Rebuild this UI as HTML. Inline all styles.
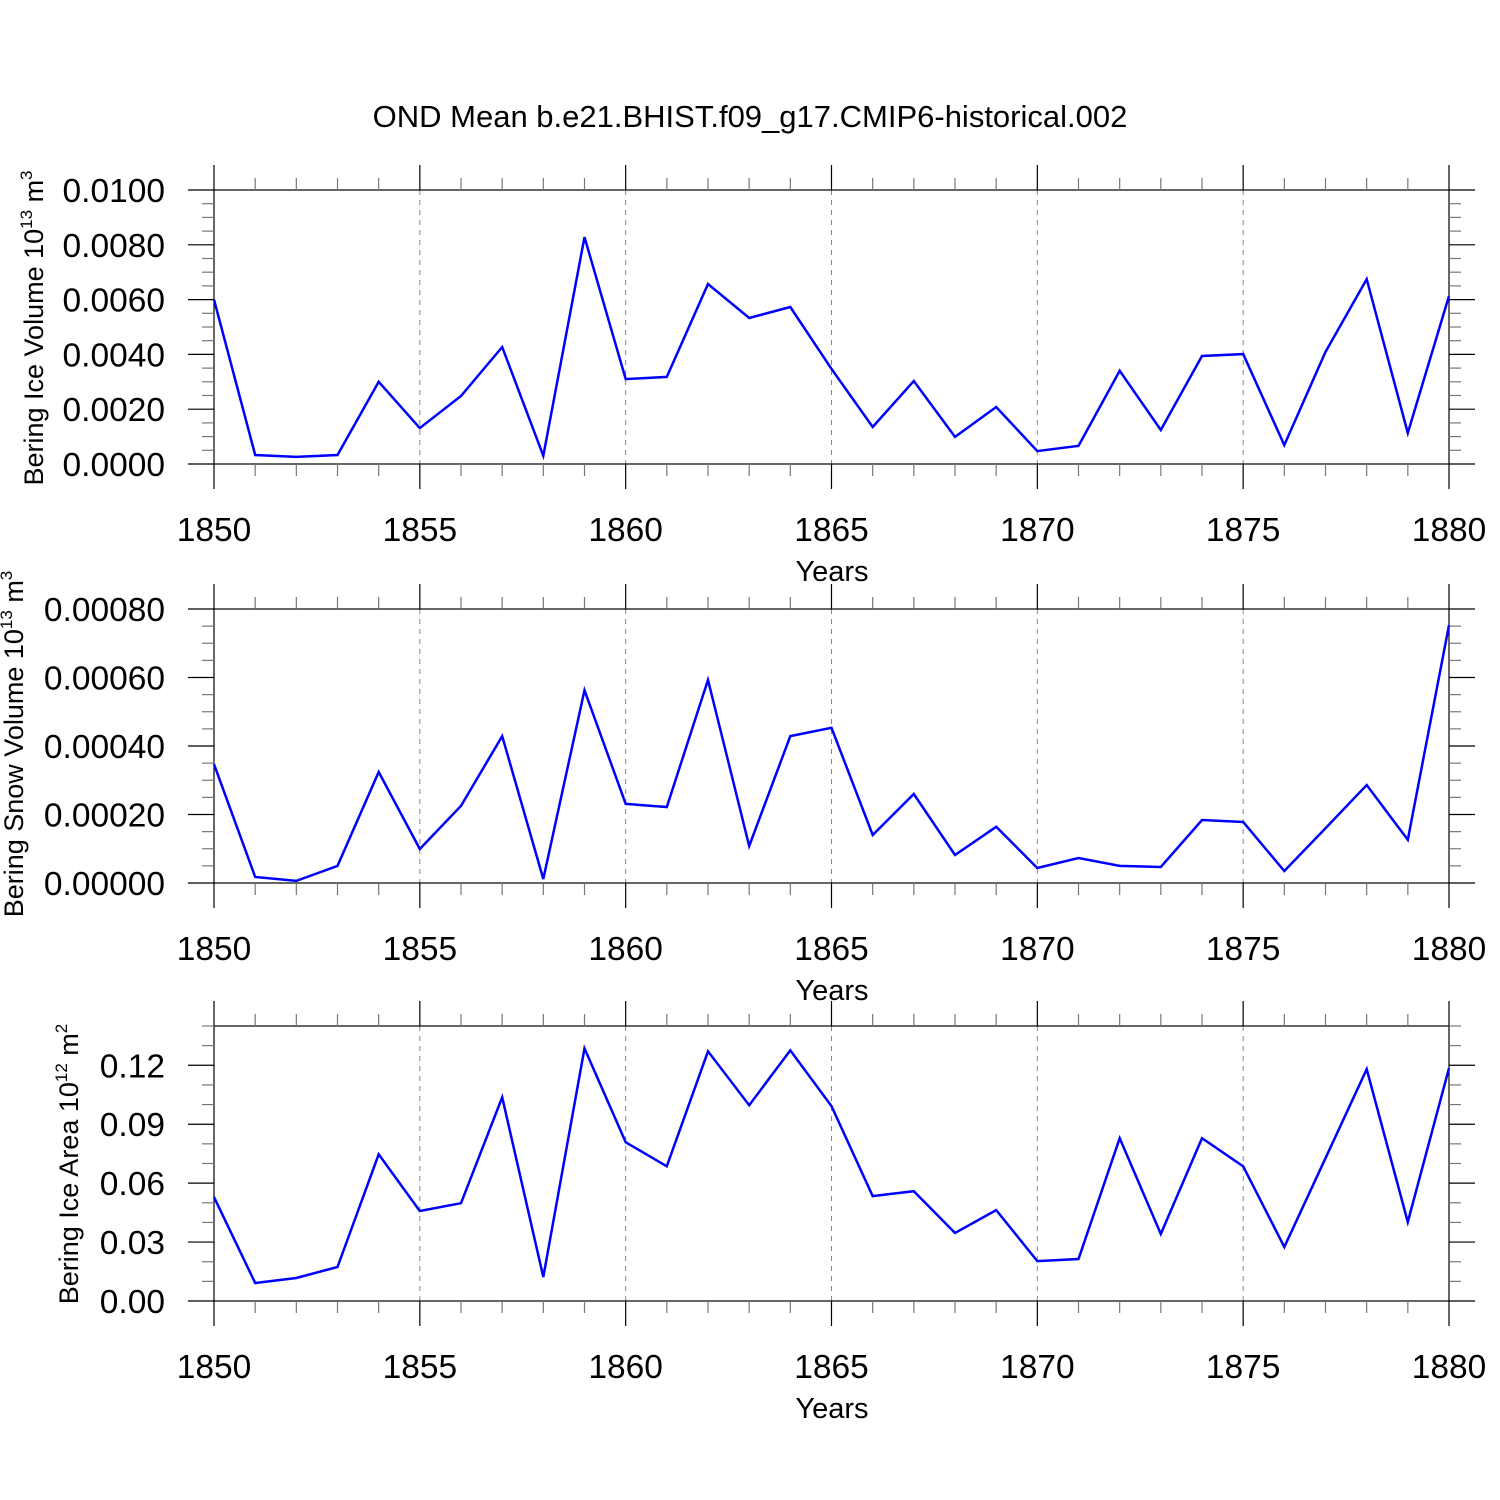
<!DOCTYPE html>
<html><head><meta charset="utf-8"><style>
html,body{margin:0;padding:0;background:#fff}
svg{display:block;font-family:"Liberation Sans",sans-serif}
</style></head><body>
<svg id="chart" width="1500" height="1500" viewBox="0 0 1500 1500">
<rect width="1500" height="1500" fill="#fff"/>
<text x="750" y="127" font-size="31" text-anchor="middle">OND Mean b.e21.BHIST.f09_g17.CMIP6-historical.002</text>
</svg>
<script>
const years = [1850,1851,1852,1853,1854,1855,1856,1857,1858,1859,1860,1861,1862,1863,1864,1865,1866,1867,1868,1869,1870,1871,1872,1873,1874,1875,1876,1877,1878,1879,1880];
const iceVolume = [0.0060,0.00033,0.00026,0.00033,0.0030,0.00131,0.00248,0.00427,0.0003,0.00828,0.0031,0.00318,0.00657,0.00533,0.00573,0.00347,0.00135,0.00303,0.00099,0.00208,0.00047,0.00066,0.0034,0.00124,0.00394,0.00401,0.00069,0.00409,0.00675,0.00113,0.00613];
const snowVolume = [0.000347,0.0000175,0.000006,0.00005,0.000324,0.0000993,0.000225,0.000429,0.0000117,0.000563,0.000231,0.000222,0.000593,0.000108,0.000429,0.000453,0.00014,0.00026,0.0000818,0.000164,0.0000438,0.000073,0.00005,0.0000467,0.000184,0.000178,0.000035,0.00016,0.000286,0.000126,0.000753];
const iceArea = [0.0529,0.00915,0.0117,0.0173,0.0747,0.0458,0.0498,0.1037,0.0122,0.1286,0.0808,0.0686,0.1271,0.0997,0.1276,0.0992,0.0534,0.0559,0.0346,0.0463,0.0203,0.0214,0.0829,0.0341,0.0829,0.0686,0.0275,0.0727,0.118,0.0402,0.1185];
const xTickYears = [1850,1855,1860,1865,1870,1875,1880];
const iceVolumeTicks = ["0.0000","0.0020","0.0040","0.0060","0.0080","0.0100"];
const snowVolumeTicks = ["0.00000","0.00020","0.00040","0.00060","0.00080"];
const iceAreaTicks = ["0.00","0.03","0.06","0.09","0.12"];

const NS="http://www.w3.org/2000/svg";
const svg=document.getElementById('chart');
function mk(tag,attrs,parent){const e=document.createElementNS(NS,tag);for(const k in attrs)e.setAttribute(k,attrs[k]);(parent||svg).appendChild(e);return e;}
const X0=214,X1=1449;
function xs(yr){return X0+(yr-1850)/(1880-1850)*(X1-X0);}

const panels=[
 {name:'ice-volume',data:iceVolume,ticks:iceVolumeTicks,top:190,bot:464,ymax:0.01,minor:0.0005,title:'Bering Ice Volume 10',sup:'13',unit:' m',usup:'3',tx:43,ty:328},
 {name:'snow-volume',data:snowVolume,ticks:snowVolumeTicks,top:609,bot:883,ymax:0.0008,minor:0.00005,title:'Bering Snow Volume 10',sup:'13',unit:' m',usup:'3',tx:23,ty:744},
 {name:'ice-area',data:iceArea,ticks:iceAreaTicks,top:1026,bot:1301,ymax:0.14,minor:0.01,title:'Bering Ice Area 10',sup:'12',unit:' m',usup:'2',tx:78,ty:1164}
];

panels.forEach(p=>{
 const g=mk('g',{});
 
 
 const ys=v=>p.bot-v/p.ymax*(p.bot-p.top);
 xTickYears.slice(1,-1).forEach(yr=>{
  const l=mk('line',{x1:xs(yr),x2:xs(yr),y1:p.top,y2:p.bot,stroke:'#888','stroke-width':1,'stroke-dasharray':'5,5'},g);
  
  
 });
 const fr=mk('rect',{x:X0,y:p.top,width:X1-X0,height:p.bot-p.top,fill:'none',stroke:'#000','stroke-width':1.2},g);
 
 
 for(let yr=1850;yr<=1880;yr++){
  const major=xTickYears.includes(yr);const L=major?25:12;const x=xs(yr);
  mk('line',{x1:x,x2:x,y1:p.top-L,y2:p.top,stroke:major?'#000':'#777','stroke-width':1.2},g);
  mk('line',{x1:x,x2:x,y1:p.bot,y2:p.bot+L,stroke:major?'#000':'#777','stroke-width':1.2},g);
 }
 xTickYears.forEach(yr=>{
  const t=mk('text',{x:xs(yr),y:p.bot+77,'font-size':33.5,'text-anchor':'middle'},g);
  t.textContent=yr;
  
  
 });
 const xt=mk('text',{x:832,y:p.bot+117,'font-size':29,'text-anchor':'middle'},g);
 xt.textContent='Years';
 
 
 const majStep=parseFloat(p.ticks[1]);
 const nMinor=Math.round(p.ymax/p.minor);
 for(let i=0;i<=nMinor;i++){
  const v=i*p.minor;const y=ys(v);
  const major=Math.abs(v/majStep-Math.round(v/majStep))<1e-6;const L=major?26:12;
  mk('line',{x1:X0-L,x2:X0,y1:y,y2:y,stroke:major?'#000':'#777','stroke-width':1.2},g);
  mk('line',{x1:X1,x2:X1+L,y1:y,y2:y,stroke:major?'#000':'#777','stroke-width':1.2},g);
 }
 p.ticks.forEach(s=>{
  const t=mk('text',{x:165,y:ys(parseFloat(s))+12,'font-size':33.5,'text-anchor':'end'},g);
  t.textContent=s;
  
  
 });
 const yt=mk('text',{x:0,y:0,'font-size':27,'text-anchor':'middle',transform:`translate(${p.tx},${p.ty}) rotate(-90)`},g);
 
 
 const a=mk('tspan',{},yt);a.textContent=p.title;
 const b=mk('tspan',{dy:-11,'font-size':17},yt);b.textContent=p.sup;
 const c=mk('tspan',{dy:11},yt);c.textContent=p.unit;
 const d=mk('tspan',{dy:-11,'font-size':17},yt);d.textContent=p.usup;
 const pts=p.data.map((v,i)=>xs(years[i]).toFixed(1)+','+ys(v).toFixed(1)).join(' ');
 const pl=mk('polyline',{points:pts,fill:'none',stroke:'#0000ff','stroke-width':2.5,'stroke-linejoin':'miter'},g);
 
 
});
</script>
</body></html>
